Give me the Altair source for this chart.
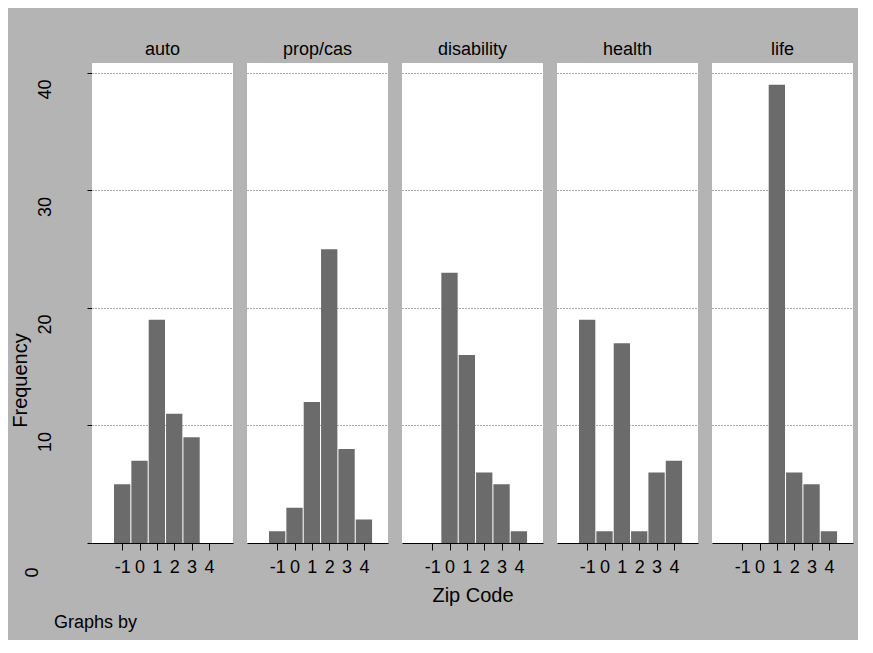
import altair as alt
import pandas as pd

categories = ["auto", "prop/cas", "disability", "health", "life"]
zip_codes = [-1, 0, 1, 2, 3, 4]
freq_auto = [5, 7, 19, 11, 9, 0]
freq_propcas = [1, 3, 12, 25, 8, 2]
freq_disability = [0, 23, 16, 6, 5, 1]
freq_health = [19, 1, 17, 1, 6, 7]
freq_life = [0, 0, 39, 6, 5, 1]

y_ticks = [0, 10, 20, 30, 40]

series = [freq_auto, freq_propcas, freq_disability, freq_health, freq_life]
rows = []
for cat, vals in zip(categories, series):
    for z, f in zip(zip_codes, vals):
        rows.append({"type": cat, "zip": z, "freq": f})
df = pd.DataFrame(rows)

FONT = "Liberation Sans"

base = alt.Chart(df).transform_calculate(
    lo="datum.zip - 0.47", hi="datum.zip + 0.47"
).mark_bar(color="#6b6b6b", orient="vertical").encode(
    x=alt.X("lo:Q",
            scale=alt.Scale(domain=[-2.45, 5.1], nice=False, zero=False),
            axis=alt.Axis(values=zip_codes, labelExpr="'' + datum.value", title=None,
                          labelOverlap=False, labelFlush=False,
                          tickSize=7, tickColor="black", domainColor="black",
                          labelFontSize=18, labelPadding=8, labelColor="black",
                          grid=False)),
    x2="hi:Q",
    y=alt.Y("freq:Q",
            scale=alt.Scale(domain=[0, 40.85], nice=False, zero=True),
            axis=alt.Axis(values=y_ticks, title="Frequency",
                          labelAngle=270, labelFontSize=18, labelColor="black",
                          labelAlign="center", labelBaseline="bottom",
                          labelOffset={"condition": {"test": "datum.value === 0", "value": 29}, "value": 16},
                          labelPadding={"condition": {"test": "datum.value === 0", "value": 46}, "value": 33},
                          tickSize=5, tickColor="black", domainColor="black",
                          grid=True, gridColor="#555555", gridDash=[1, 2], gridWidth=1,
                          gridOpacity={"condition": {"test": "datum.value === 0", "value": 0}, "value": 1},
                          titleFontSize=20, titleFontWeight="normal", titleColor="black",
                          titleAngle=270, titleAlign="center", titleBaseline="middle",
                          titleX=-72, titleY=317)),
    y2=alt.datum(0),
).properties(width=141, height=480)

chart = base.facet(
    column=alt.Column("type:N", sort=categories, title="Zip Code",
                      header=alt.Header(labelFontSize=18, labelColor="black",
                                        labelFont=FONT, labelPadding=4,
                                        labelOrient="top",
                                        titleOrient="bottom", titleFontSize=20,
                                        titleFontWeight="normal", titleColor="black",
                                        titleFont=FONT, titlePadding=0)),
    spacing=14,
).properties(
    title=alt.TitleParams("Graphs by", orient="bottom", anchor="start", frame="bounds",
                          fontSize=18, fontWeight="normal", font=FONT, color="black",
                          dx=44, offset=8),
    background="#b4b4b4",
    padding={"left": 2, "top": 33, "right": 5, "bottom": 8},
).configure(font=FONT).configure_view(
    fill="white", strokeWidth=0
)

chart.save("out.html", embed_options={"renderer": "svg", "actions": False})
